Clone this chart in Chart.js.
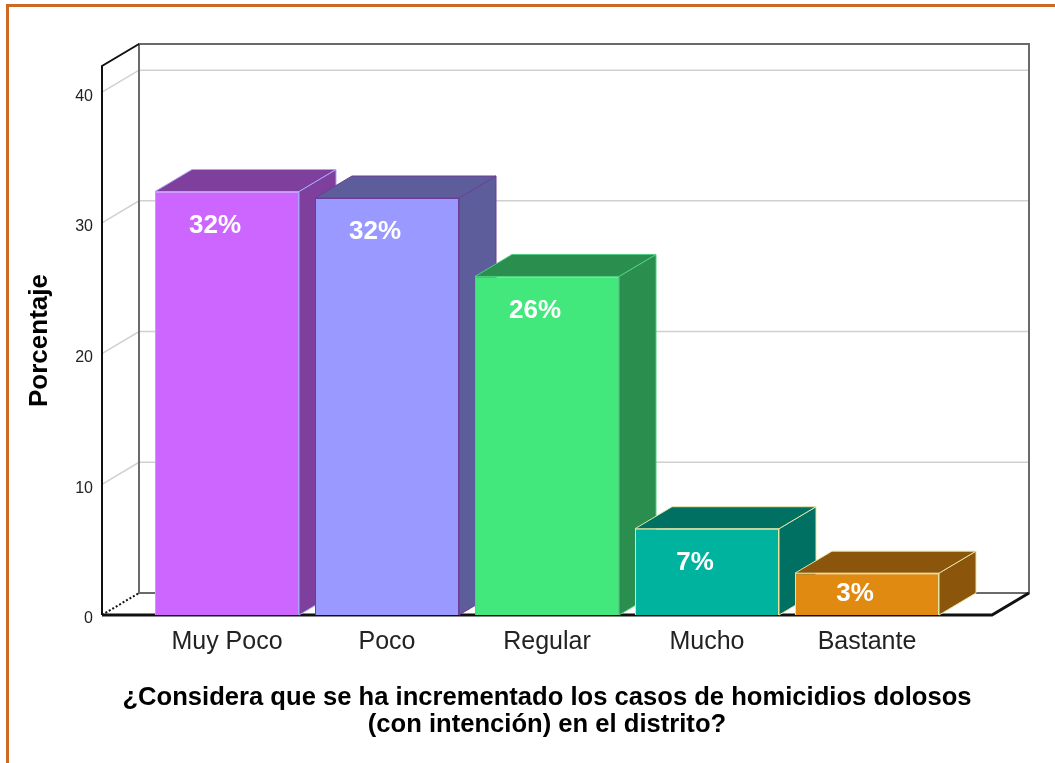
<!DOCTYPE html>
<html lang="es">
<head>
  <meta charset="UTF-8">
  <title>Homicidios dolosos en el distrito</title>
  <script src="https://cdn.jsdelivr.net/npm/chart.js"></script>
  <style>
    html, body {
      margin: 0;
      padding: 0;
      background: #fff;
      overflow: hidden;
    }
    .wrap {
      position: relative;
      width: 1055px;
      height: 763px;
    }
    canvas {
      display: block;
    }
    .frame {
      position: absolute;
      left: 6px;
      top: 4px;
      width: 1200px;
      height: 900px;
      border: 3px solid #cc6a24;
      pointer-events: none;
    }
  </style>
</head>
<body>
  <div class="wrap">
    <canvas id="grafico" width="1055" height="763"></canvas>
    <div class="frame"></div>
  </div>
  <script>
    const categorias = ['Muy Poco', 'Poco', 'Regular', 'Mucho', 'Bastante'];
    const porcentajes = [32.4, 31.9, 25.9, 6.6, 3.2];
    const coloresFrente = ['#cc66ff', '#9999ff', '#42e87c', '#00b39e', '#e08a12'];
    const coloresLado = ['#7f3f9c', '#5d5d9c', '#2a8f4e', '#007062', '#8b560b'];
    const coloresBorde = ['#aaa4ff', '#6b3d96', '#4fcf80', '#e6e3a3', '#e6e3a3'];
    const tituloX = ['¿Considera que se ha incrementado los casos de homicidios dolosos', '(con intención) en el distrito?'];
    const tituloY = 'Porcentaje';

    const FUENTE = "'Liberation Sans', Arial, sans-serif";
    const DX = 37, DY = -22;   // profundidad del efecto 3D
    const MARGEN = 45;         // distancia del eje frontal al área de barras

    const efecto3d = {
      id: 'efecto3d',
      beforeDatasetsDraw(chart) {
        const { ctx, chartArea: a, scales: { y } } = chart;
        const L = a.left - MARGEN, R = a.right + MARGEN, T = a.top, B = a.bottom;
        ctx.save();

        // líneas de cuadrícula en pared lateral y pared de fondo
        ctx.strokeStyle = '#d0d0d0';
        ctx.lineWidth = 1.5;
        y.ticks.forEach(t => {
          if (t.value === 0) return;
          const py = y.getPixelForValue(t.value);
          ctx.beginPath();
          ctx.moveTo(L, py);
          ctx.lineTo(L + DX, py + DY);
          ctx.lineTo(R + DX, py + DY);
          ctx.stroke();
        });

        // pared de fondo
        ctx.strokeStyle = '#6a6a6a';
        ctx.lineWidth = 2;
        ctx.beginPath();
        ctx.moveTo(L + DX, B + DY);
        ctx.lineTo(L + DX, T + DY);
        ctx.lineTo(R + DX, T + DY);
        ctx.lineTo(R + DX, B + DY);
        ctx.closePath();
        ctx.stroke();

        // pared izquierda
        ctx.strokeStyle = '#111';
        ctx.beginPath();
        ctx.moveTo(L, B);
        ctx.lineTo(L, T);
        ctx.lineTo(L + DX, T + DY);
        ctx.stroke();
        ctx.setLineDash([2, 2]);
        ctx.beginPath();
        ctx.moveTo(L, B);
        ctx.lineTo(L + DX, B + DY);
        ctx.stroke();
        ctx.setLineDash([]);

        // piso
        ctx.lineWidth = 3;
        ctx.beginPath();
        ctx.moveTo(L, B);
        ctx.lineTo(R, B);
        ctx.lineTo(R + DX, B + DY);
        ctx.stroke();

        // caras superior y lateral de cada barra
        const meta = chart.getDatasetMeta(0);
        meta.data.forEach((bar, i) => {
          const x0 = bar.x - bar.width / 2, x1 = bar.x + bar.width / 2;
          const yt = bar.y, yb = bar.base;
          ctx.fillStyle = coloresLado[i];
          ctx.strokeStyle = coloresBorde[i];
          ctx.lineWidth = 1;
          ctx.beginPath();
          ctx.moveTo(x1, yt);
          ctx.lineTo(x1 + DX, yt + DY);
          ctx.lineTo(x1 + DX, yb + DY);
          ctx.lineTo(x1, yb);
          ctx.closePath();
          ctx.fill();
          ctx.stroke();
          ctx.beginPath();
          ctx.moveTo(x0, yt);
          ctx.lineTo(x0 + DX, yt + DY);
          ctx.lineTo(x1 + DX, yt + DY);
          ctx.lineTo(x1, yt);
          ctx.closePath();
          ctx.fill();
          ctx.stroke();
        });
        ctx.restore();
      },
      afterDatasetsDraw(chart) {
        const { ctx, chartArea: a } = chart;
        const meta = chart.getDatasetMeta(0);
        ctx.save();
        ctx.fillStyle = '#fff';
        ctx.font = 'bold 26px ' + FUENTE;
        ctx.textAlign = 'center';
        ctx.textBaseline = 'middle';
        meta.data.forEach((bar, i) => {
          const ty = Math.min(bar.y + 34, (bar.y + bar.base) / 2);
          ctx.fillText(Math.round(porcentajes[i]) + '%', bar.x - 12, ty);
        });

        // título del eje X (dibujado sin límite de ancho)
        ctx.fillStyle = '#000';
        ctx.font = 'bold 25.6px ' + FUENTE;
        const cx = (a.left + a.right) / 2;
        tituloX.forEach((linea, i) => {
          ctx.fillText(linea, cx, a.bottom + 83 + i * 27);
        });
        ctx.restore();
      }
    };

    new Chart(document.getElementById('grafico'), {
      type: 'bar',
      data: {
        labels: categorias,
        datasets: [{
          data: porcentajes,
          backgroundColor: coloresFrente,
          borderColor: coloresBorde,
          borderWidth: 1,
          barPercentage: 0.9,
          categoryPercentage: 1
        }]
      },
      options: {
        responsive: false,
        devicePixelRatio: 1,
        animation: false,
        layout: { padding: { left: 24, top: 66, right: 108, bottom: 0 } },
        plugins: {
          legend: { display: false },
          tooltip: { enabled: false }
        },
        scales: {
          x: {
            grid: { display: false, drawTicks: false },
            border: { display: false },
            ticks: { color: '#222', padding: 12, font: { family: FUENTE, size: 25 } },
            afterFit: s => { s.height = 148; }
          },
          y: {
            min: 0,
            max: 42,
            afterBuildTicks: s => { s.ticks = s.ticks.filter(t => t.value % 10 === 0); },
            grid: { display: false, drawTicks: false },
            border: { display: false },
            ticks: { stepSize: 10, color: '#222', padding: 54, labelOffset: 4, font: { family: FUENTE, size: 16 } },
            title: {
              display: true,
              text: tituloY,
              color: '#000',
              font: { family: FUENTE, size: 26, weight: 'bold' },
              padding: { top: 0, bottom: 0 }
            },
            afterFit: s => { s.width = 123; }
          }
        }
      },
      plugins: [efecto3d]
    });
  </script>
</body>
</html>
